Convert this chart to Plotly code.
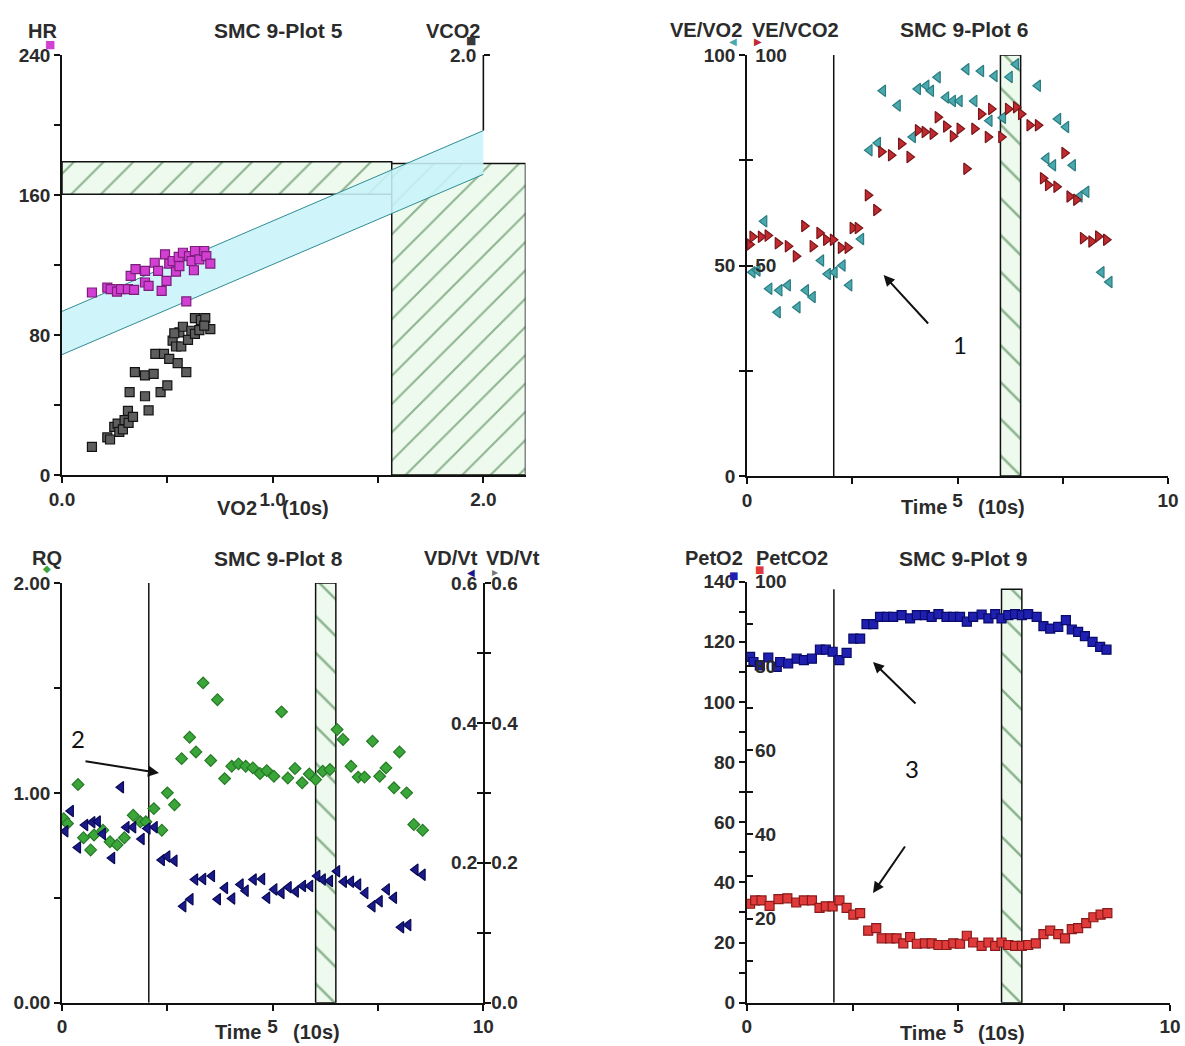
import plotly.graph_objects as go

# ---------------- data: SMC 9 - Plot 5 (VO2 vs HR / VCO2) ----------------
vo2_for_hr = [0.142, 0.215, 0.231, 0.261, 0.28, 0.313, 0.342, 0.326, 0.349, 0.394, 0.394, 0.411,
              0.44, 0.456, 0.473, 0.496, 0.489, 0.509, 0.525, 0.541, 0.557, 0.554, 0.574, 0.59,
              0.603, 0.615, 0.626, 0.631, 0.652, 0.675, 0.685, 0.704]
hr = [104.3, 107.1, 106.2, 104.8, 106.2, 106.2, 105.8, 113.8, 117.6, 116.6, 110.0, 108.1,
      121.3, 116.6, 105.2, 110.9, 126.1, 120.8, 122.3, 116.2, 119.4, 124.6, 127.0, 99.2,
      125.1, 122.3, 117.0, 128.0, 123.2, 128.0, 125.1, 120.8]
vo2_for_vco2 = [0.142, 0.215, 0.228, 0.248, 0.264, 0.272, 0.289, 0.297, 0.313, 0.316, 0.337, 0.321,
                0.346, 0.394, 0.435, 0.394, 0.411, 0.443, 0.484, 0.509, 0.549, 0.59, 0.468, 0.5,
                0.525, 0.541, 0.566, 0.557, 0.574, 0.598, 0.614, 0.631, 0.631, 0.659, 0.68, 0.704,
                0.652, 0.675, 0.533]
vco2 = [0.134, 0.179, 0.169, 0.229, 0.245, 0.205, 0.217, 0.261, 0.305, 0.248, 0.277, 0.395,
        0.49, 0.474, 0.482, 0.375, 0.308, 0.577, 0.577, 0.553, 0.533, 0.49, 0.395, 0.427,
        0.64, 0.612, 0.612, 0.679, 0.706, 0.643, 0.687, 0.672, 0.747, 0.738, 0.747, 0.695,
        0.69, 0.711, 0.675]
band_vo2 = [0.0, 2.0]
band_hr_upper = [93.5, 196.8]
band_hr_lower = [68.8, 171.8]
hr_zone = [160.5, 179.0]
vo2_zone = [1.565, 2.2]
vo2_zone_hr_top = 178.0

# ---------------- data: SMC 9 - Plot 6 (VE/VO2, VE/VCO2 vs time) ----------------
t_ve_vo2 = [0.13, 0.25, 0.41, 0.53, 0.73, 0.77, 0.97, 1.2, 1.4, 1.56, 1.76, 1.92, 2.08, 2.27, 2.43,
            2.71, 2.91, 3.11, 3.23, 3.58, 3.74, 3.94, 4.06, 4.26, 4.37, 4.53, 4.73, 4.89, 5.05,
            5.21, 5.4, 5.56, 5.76, 5.88, 6.08, 6.24, 6.39, 6.55, 6.71, 6.91, 7.11, 7.27, 7.39,
            7.58, 7.74, 7.9, 8.06, 8.42, 8.61]
ve_vo2 = [48.4, 48.8, 60.5, 44.5, 38.9, 44.1, 45.3, 40.1, 44.1, 42.5, 51.2, 48.0, 48.4, 50.0, 45.3,
          56.3, 77.4, 79.1, 91.5, 88.0, 110.8, 80.5, 91.9, 92.7, 91.5, 94.7, 89.9, 89.1, 89.1,
          96.6, 89.1, 96.2, 84.4, 95.0, 85.1, 94.8, 97.8, 109.6, 103.3, 92.7, 75.4, 73.8, 84.8,
          82.9, 73.8, 66.4, 67.5, 48.4, 46.1]
t_ve_vco2 = [0.06, 0.13, 0.33, 0.49, 0.73, 0.97, 1.16, 1.36, 1.56, 1.72, 1.88, 2.04, 2.23, 2.39,
             2.51, 2.63, 2.87, 3.07, 3.19, 3.42, 3.66, 3.86, 4.06, 4.22, 4.41, 4.53, 4.73, 4.89,
             5.05, 5.21, 5.4, 5.56, 5.72, 5.8, 6.04, 6.2, 6.39, 6.51, 6.71, 6.91, 7.03, 7.15,
             7.35, 7.54, 7.66, 7.82, 7.98, 8.18, 8.34, 8.53]
ve_vco2 = [55.0, 56.8, 56.8, 57.1, 55.3, 54.6, 52.2, 59.4, 54.6, 57.7, 56.1, 56.1, 54.2, 54.2,
           58.9, 58.9, 66.7, 63.2, 77.0, 76.2, 78.9, 75.8, 82.1, 81.7, 81.3, 85.2, 83.0, 80.7,
           82.5, 73.0, 82.5, 86.0, 80.5, 87.2, 80.5, 87.2, 87.6, 86.0, 83.3, 83.3, 70.7, 69.1,
           68.7, 76.7, 66.4, 65.6, 56.5, 55.7, 56.9, 56.1]

# ---------------- data: SMC 9 - Plot 8 (RQ, VD/Vt vs time) ----------------
t_rq = [0.04, 0.13, 0.38, 0.51, 0.68, 0.76, 0.97, 1.14, 1.31, 1.48, 1.69, 1.86, 1.99, 2.18, 2.37,
        2.5, 2.67, 2.84, 3.03, 3.18, 3.35, 3.53, 3.69, 3.86, 4.03, 4.19, 4.36, 4.53, 4.7, 4.86,
        5.03, 5.21, 5.36, 5.53, 5.7, 5.87, 6.02, 6.19, 6.36, 6.53, 6.67, 6.86, 7.03, 7.18, 7.37,
        7.54, 7.69, 7.88, 8.01, 8.18, 8.35, 8.56]
rq = [0.877, 0.854, 1.04, 0.786, 0.728, 0.799, 0.822, 0.767, 0.752, 0.786, 0.893, 0.862, 0.862,
      0.925, 0.822, 1.0, 0.943, 1.163, 1.265, 1.195, 1.524, 1.154, 1.444, 1.068, 1.127, 1.138,
      1.127, 1.119, 1.092, 1.106, 1.079, 1.386, 1.071, 1.116, 1.048, 1.09, 1.063, 1.103, 1.111,
      1.302, 1.254, 1.127, 1.075, 1.075, 1.246, 1.079, 1.119, 1.024, 1.195, 1.0, 0.849, 0.822]
t_vdvt = [0.08, 0.21, 0.38, 0.55, 0.72, 0.85, 0.97, 1.19, 1.4, 1.53, 1.69, 1.89, 2.03, 2.2, 2.37,
          2.5, 2.67, 2.88, 3.05, 3.16, 3.35, 3.56, 3.7, 3.87, 4.04, 4.24, 4.36, 4.55, 4.75, 4.87,
          5.04, 5.21, 5.38, 5.55, 5.72, 5.89, 6.06, 6.19, 6.36, 6.53, 6.69, 6.86, 7.03, 7.2, 7.37,
          7.54, 7.71, 7.88, 8.05, 8.22, 8.39, 8.56]
vdvt = [0.245, 0.274, 0.222, 0.254, 0.258, 0.259, 0.241, 0.207, 0.308, 0.251, 0.251, 0.234, 0.249,
        0.251, 0.204, 0.209, 0.203, 0.138, 0.148, 0.176, 0.177, 0.181, 0.148, 0.164, 0.149, 0.169,
        0.16, 0.176, 0.177, 0.15, 0.162, 0.157, 0.165, 0.159, 0.167, 0.167, 0.181, 0.176, 0.174,
        0.188, 0.173, 0.173, 0.169, 0.157, 0.138, 0.145, 0.162, 0.15, 0.108, 0.111, 0.19, 0.183]

# ---------------- data: SMC 9 - Plot 9 (PetO2, PetCO2 vs time) ----------------
t_peto2 = [0.08, 0.16, 0.31, 0.51, 0.71, 0.79, 0.98, 1.18, 1.35, 1.54, 1.73, 1.87, 2.03, 2.19,
           2.36, 2.52, 2.68, 2.83, 2.99, 3.15, 3.31, 3.46, 3.66, 3.86, 4.02, 4.21, 4.37, 4.53,
           4.72, 4.88, 5.04, 5.2, 5.35, 5.55, 5.71, 5.87, 6.02, 6.18, 6.34, 6.5, 6.65, 6.85,
           7.01, 7.17, 7.36, 7.54, 7.68, 7.83, 7.99, 8.17, 8.35, 8.5]
peto2 = [115.0, 113.3, 112.2, 114.8, 111.7, 113.3, 112.8, 114.4, 113.9, 114.4, 117.4, 117.4,
         116.7, 113.9, 116.3, 121.1, 121.1, 125.9, 125.9, 128.3, 128.3, 128.3, 128.9, 127.8,
         128.9, 128.9, 128.3, 129.2, 128.3, 128.3, 128.3, 126.7, 128.3, 129.1, 127.8, 129.2,
         127.8, 128.9, 129.2, 128.9, 129.2, 128.3, 125.2, 124.4, 125.0, 127.2, 124.1, 123.3,
         121.9, 120.0, 118.3, 117.4]
t_petco2 = [0.08, 0.2, 0.35, 0.54, 0.75, 0.96, 1.17, 1.35, 1.54, 1.72, 1.87, 2.03, 2.19, 2.36,
            2.52, 2.68, 2.87, 3.06, 3.19, 3.39, 3.54, 3.7, 3.86, 4.02, 4.21, 4.37, 4.53, 4.72,
            4.88, 5.04, 5.2, 5.35, 5.55, 5.71, 5.87, 6.02, 6.18, 6.34, 6.5, 6.65, 6.83, 7.01,
            7.17, 7.36, 7.52, 7.68, 7.83, 8.02, 8.19, 8.36, 8.52]
petco2 = [23.5, 24.3, 24.3, 23.0, 24.6, 24.8, 23.8, 24.3, 24.3, 22.5, 22.9, 22.9, 24.3, 22.5,
          20.9, 21.3, 17.1, 17.7, 15.3, 15.3, 15.3, 14.1, 15.6, 14.0, 14.1, 14.1, 13.7, 13.7,
          14.1, 14.0, 15.9, 14.3, 13.5, 14.3, 13.5, 14.3, 13.7, 13.5, 13.5, 13.7, 14.1, 16.3,
          17.1, 16.3, 15.3, 17.5, 17.7, 18.9, 20.3, 20.9, 21.3]

# event markers shared by the time plots
event_time = 2.06
window_time = [6.02, 6.5]
plot9_window_top = 137.5

# tick labels
time_ticks = [0, 2.5, 5, 7.5, 10]
time_ticktext = ["0", "", "5", "", "10"]

# ---------------- layout helpers ----------------
W, H = 1185, 1046
FONT = "Liberation Sans, Arial, sans-serif"
TXT = "#2b2b2b"


def px(x):
    return x / W


def py(y):
    return 1 - y / H


def axis(**kw):
    d = dict(showgrid=False, zeroline=False, showline=True, linecolor="#111", linewidth=1.6,
             ticks="outside", ticklen=6, tickwidth=1.5, tickcolor="#111", automargin=False,
             ticklabeloverflow="allow",
             tickfont=dict(family=FONT, size=19, color=TXT, weight="bold"), fixedrange=True)
    d.update(kw)
    return d


fig = go.Figure()

HATCH_BG = "#eefaee"
HATCH_FG = "#2a6e2e"


def hatch(x0, x1, y0, y1, xa, ya, shape, size):
    return go.Scatter(x=[x0, x1, x1, x0, x0], y=[y0, y0, y1, y1, y0], mode="lines",
                      fill="toself", fillcolor=HATCH_BG,
                      fillpattern=dict(shape=shape, fgcolor=HATCH_FG, bgcolor=HATCH_BG,
                                       size=size, solidity=0.1),
                      line=dict(color="#111", width=1.5), xaxis=xa, yaxis=ya,
                      hoverinfo="skip", showlegend=False)


def markers(x, y, xa, ya, symbol, fill, edge, size=9, clip=True):
    return go.Scatter(x=x, y=y, mode="markers", xaxis=xa, yaxis=ya, showlegend=False,
                      cliponaxis=clip,
                      marker=dict(symbol=symbol, size=size, color=fill,
                                  line=dict(color=edge, width=1.2)))


# ---- Plot 5 ----
fig.add_trace(hatch(0, vo2_zone[0], hr_zone[0], hr_zone[1], "x", "y", "/", 21))
fig.add_trace(hatch(vo2_zone[0], vo2_zone[1], 0, vo2_zone_hr_top, "x", "y", "/", 20))
fig.add_trace(go.Scatter(x=band_vo2 + band_vo2[::-1], y=band_hr_upper + band_hr_lower[::-1],
                         mode="none", fill="toself", fillcolor="rgba(200,244,250,0.88)",
                         xaxis="x", yaxis="y", hoverinfo="skip", showlegend=False))
for edge in (band_hr_upper, band_hr_lower):
    fig.add_trace(go.Scatter(x=band_vo2, y=edge, mode="lines", line=dict(color="#2f8c92", width=1),
                             xaxis="x", yaxis="y", hoverinfo="skip", showlegend=False))
fig.add_trace(markers(vo2_for_hr, hr, "x", "y", "square", "#d23fd2", "#7b1f7b"))
fig.add_trace(markers(vo2_for_vco2, vco2, "x", "y2", "square", "#5e5e5e", "#141414"))

# ---- Plot 6 ----
fig.add_trace(hatch(window_time[0], window_time[1], 0, 100, "x2", "y3", "\\", 26))
fig.add_trace(markers(t_ve_vo2, ve_vo2, "x2", "y3", "triangle-left", "#4aa9ae", "#2a7c80",
                      size=10, clip=False))
fig.add_trace(markers(t_ve_vco2, ve_vco2, "x2", "y4", "triangle-right", "#bf2b30", "#7a1518",
                      size=10, clip=False))

# ---- Plot 8 ----
fig.add_trace(hatch(window_time[0], window_time[1], 0, 2.0, "x3", "y5", "\\", 26))
fig.add_trace(markers(t_rq, rq, "x3", "y5", "diamond", "#3aa63a", "#267a26", size=9))
fig.add_trace(markers(t_vdvt, vdvt, "x3", "y6", "triangle-left", "#1a1a8a", "#0a0a55", size=10))
# second VD/Vt series has no samples in view; keeps its axis alive
fig.add_trace(go.Scatter(x=[None], y=[None], mode="markers", xaxis="x3", yaxis="y7",
                         showlegend=False, hoverinfo="skip"))

# ---- Plot 9 ----
fig.add_trace(hatch(window_time[0], window_time[1], 0, plot9_window_top, "x4", "y8", "\\", 26))
fig.add_trace(markers(t_peto2, peto2, "x4", "y8", "square", "#1f1fb0", "#0a0a6a", size=9))
fig.add_trace(markers(t_petco2, petco2, "x4", "y9", "square", "#e03a3a", "#8a1a1a", size=9))

# ---------------- axes ----------------
lay = dict(
    # Plot 5
    xaxis=axis(domain=[px(62), px(525.5)], range=[0, 2.2], anchor="y",
               tickvals=[0, 0.5, 1.0, 1.5, 2.0], ticktext=["0.0", "", "1.0", "", "2.0"]),
    yaxis=axis(domain=[py(475), py(55)], range=[0, 240], anchor="x",
               tickvals=[0, 40, 80, 120, 160, 200, 240],
               ticktext=["0", "", "80", "", "160", "", "240"]),
    yaxis2=axis(overlaying="y", anchor="free", position=px(483.3), side="right", range=[0, 2.0],
                showline=False, tickvals=[2.0], ticktext=["2.0"], ticklabelposition="inside",
                ticklabelstandoff=4),
    # Plot 6
    xaxis2=axis(domain=[px(747), px(1168)], range=[0, 10], anchor="y3",
                tickvals=time_ticks, ticktext=time_ticktext),
    yaxis3=axis(domain=[py(476), py(55)], range=[0, 100], anchor="x2",
                tickvals=[0, 25, 50, 75, 100], ticktext=["0", "", "50", "", "100"]),
    yaxis4=axis(overlaying="y3", anchor="x2", side="left", range=[0, 100], showline=False,
                ticks="inside", ticklabelposition="inside", ticklabelstandoff=3,
                tickvals=[0, 25, 50, 75, 100], ticktext=["", "", "50", "", "100"]),
    # Plot 8
    xaxis3=axis(domain=[px(62), px(483.3)], range=[0, 10], anchor="y5",
                tickvals=time_ticks, ticktext=time_ticktext),
    yaxis5=axis(domain=[py(1002.7), py(583)], range=[0, 2.0], anchor="x3",
                tickvals=[0, 0.5, 1.0, 1.5, 2.0], ticktext=["0.00", "", "1.00", "", "2.00"]),
    yaxis6=axis(overlaying="y5", anchor="x3", side="right", range=[0, 0.6],
                ticklabelposition="inside", ticklabelstandoff=7,
                tickvals=[0, 0.1, 0.2, 0.3, 0.4, 0.5, 0.6],
                ticktext=["", "", "0.2", "", "0.4", "", "0.6"]),
    yaxis7=axis(overlaying="y5", anchor="x3", side="right", range=[0, 0.6], showline=False,
                ticks="inside", ticklabelstandoff=7,
                tickvals=[0, 0.1, 0.2, 0.3, 0.4, 0.5, 0.6],
                ticktext=["0.0", "", "0.2", "", "0.4", "", "0.6"]),
    # Plot 9
    xaxis4=axis(domain=[px(746.7), px(1170)], range=[0, 10], anchor="y8",
                tickvals=time_ticks, ticktext=time_ticktext),
    yaxis8=axis(domain=[py(1002.7), py(581.7)], range=[0, 140], anchor="x4",
                tickvals=list(range(0, 141, 10)),
                ticktext=[str(v) if v % 20 == 0 else "" for v in range(0, 141, 10)]),
    yaxis9=axis(overlaying="y8", anchor="x4", side="left", range=[0, 100], showline=False,
                ticks="inside", ticklabelposition="inside", ticklabelstandoff=3,
                tickvals=list(range(0, 101, 10)),
                ticktext=[str(v) if (v % 20 == 0 and v > 0) else "" for v in range(0, 101, 10)]),
)

# ---------------- shapes: event lines, VCO2 axis segment ----------------
shapes = [
    dict(type="line", xref="x", yref="y", x0=band_vo2[-1], x1=band_vo2[-1],
         y0=band_hr_upper[-1], y1=240, line=dict(color="#111", width=1.6), layer="above"),
    dict(type="line", xref="x2", yref="y3", x0=event_time, x1=event_time, y0=0, y1=100,
         line=dict(color="#111", width=1.5), layer="below"),
    dict(type="line", xref="x3", yref="y5", x0=event_time, x1=event_time, y0=0, y1=2.0,
         line=dict(color="#111", width=1.5), layer="below"),
    dict(type="line", xref="x4", yref="y8", x0=event_time, x1=event_time, y0=0,
         y1=plot9_window_top, line=dict(color="#111", width=1.5), layer="below"),
]

# ---------------- annotations: titles, labels, legend keys, arrows ----------------
ann = []


def label(text, x, y, size=20, bold=True, color=TXT, family=FONT):
    ann.append(dict(text=text, x=px(x), y=py(y), xref="paper", yref="paper", showarrow=False,
                    xanchor="center", yanchor="middle",
                    font=dict(family=family, size=size, color=color,
                              weight="bold" if bold else "normal")))


# Plot 5
label("HR", 42, 31)
label("SMC 9-Plot 5", 278, 31, size=21)
label("VCO2", 453, 31)
label("VO2", 237, 508)
label("(10s)", 305, 508)
# Plot 6
label("VE/VO2", 706, 30)
label("VE/VCO2", 795, 30)
label("SMC 9-Plot 6", 964, 30, size=21)
label("Time", 924, 507)
label("(10s)", 1001, 507)
# Plot 8
label("RQ", 47, 558)
label("SMC 9-Plot 8", 278, 558, size=21)
label("VD/Vt", 451, 558)
label("VD/Vt", 513, 558)
label("Time", 238, 1032)
label("(10s)", 316, 1032)
# Plot 9
label("PetO2", 714, 558)
label("PetCO2", 792, 558)
label("SMC 9-Plot 9", 963, 558, size=21)
label("Time", 923, 1033)
label("(10s)", 1001, 1033)

# legend keys next to the axis titles
KEYF = "DejaVu Sans"
label("■", 50, 45, size=11, bold=False, color="#d23fd2", family=KEYF)
label("■", 471, 41, size=11, bold=False, color="#3a3a3a", family=KEYF)
label("◀", 733, 42, size=10, bold=False, color="#4aa9ae", family=KEYF)
label("▶", 758, 42, size=10, bold=False, color="#bf2b30", family=KEYF)
label("◆", 47, 568, size=10, bold=False, color="#3aa63a", family=KEYF)
label("◀", 471, 572, size=10, bold=False, color="#1a1a8a", family=KEYF)
label("▸", 495, 572, size=12, bold=False, color="#777777", family=KEYF)
label("■", 733, 575, size=10, bold=False, color="#1f1fb0", family=KEYF)
label("■", 759, 569, size=10, bold=False, color="#e03a3a", family=KEYF)

# hand-drawn style arrows with numbers
NUMF = "Lato, Open Sans, sans-serif"
label("1", 960, 345, size=24, bold=False, color="#111", family=NUMF)
label("2", 78, 738, size=24, bold=False, color="#111", family=NUMF)
label("3", 912, 768, size=24, bold=False, color="#111", family=NUMF)


def arrow(tip, tail):
    ann.append(dict(x=px(tip[0]), y=py(tip[1]), xref="paper", yref="paper", text="",
                    showarrow=True, ax=tail[0] - tip[0], ay=tail[1] - tip[1],
                    arrowhead=2, arrowsize=1.1, arrowwidth=2, arrowcolor="#111", standoff=0))


arrow((883.6, 275), (929.5, 325))
arrow((159, 773), (84, 761))
arrow((873, 662), (917, 705))
arrow((873, 893), (906, 845))

fig.update_layout(width=W, height=H, autosize=False, margin=dict(l=0, r=0, t=0, b=0, pad=0),
                  paper_bgcolor="white", plot_bgcolor="rgba(0,0,0,0)", showlegend=False,
                  shapes=shapes, annotations=ann, **lay)

# let the figure fill the page exactly (no default 8px body margin, no scrollbars, no modebar)
fig.write_html("out.html", config={"displayModeBar": False},
               post_script="document.body.style.margin='0';"
                           "document.body.style.overflow='hidden';")
